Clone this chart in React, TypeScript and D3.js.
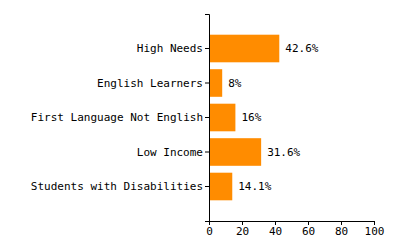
import React, { useEffect, useRef } from "react";
import * as d3 from "d3";

const categories = ["High Needs", "English Learners", "First Language Not English", "Low Income", "Students with Disabilities"];
const values = [42.6, 8, 16, 31.6, 14.1];
const valueLabels = ["42.6%", "8%", "16%", "31.6%", "14.1%"];
const xTicks = [0, 20, 40, 60, 80, 100];

const W = 400, H = 250;
const FONT = "'DejaVu Sans Mono', monospace";

export default function App() {
  const ref = useRef<SVGSVGElement>(null);
  useEffect(() => {
    const svg = d3.select(ref.current);
    svg.selectAll("*").remove();
    const left = 209, right = 374, top = 14, bottom = 221;
    const x = d3.scaleLinear().domain([0, 100]).range([left, right]);
    const y = d3.scaleBand<string>().domain(categories).range([top, bottom]).paddingInner(0.2).paddingOuter(0.6);

    svg.append("g").selectAll("rect").data(categories).join("rect")
      .attr("x", x(0))
      .attr("y", (d) => y(d)!)
      .attr("width", (_, i) => x(values[i]) - x(0))
      .attr("height", y.bandwidth())
      .attr("fill", "#ff8c00");

    svg.append("g").selectAll("text").data(categories).join("text")
      .attr("x", (_, i) => x(values[i]) + 6)
      .attr("y", (d) => y(d)! + y.bandwidth() / 2)
      .attr("dy", "0.35em")
      .attr("font-family", FONT)
      .attr("font-size", 11)
      .attr("fill", "#000")
      .text((_, i) => valueLabels[i]);

    const gy = svg.append("g").attr("transform", `translate(${left},0)`)
      .call(d3.axisLeft(y).tickSize(4).tickPadding(2));
    gy.attr("font-family", FONT).attr("font-size", 11);
    gy.selectAll("text").attr("fill", "#000");

    const gx = svg.append("g").attr("transform", `translate(0,${bottom})`)
      .call(d3.axisBottom(x).tickValues(xTicks).tickSize(4).tickPadding(2));
    gx.attr("font-family", FONT).attr("font-size", 11);
    gx.selectAll("text").attr("fill", "#000");
  }, []);
  return (
    <svg ref={ref} width={W} height={H} style={{ position: "absolute", left: 0, top: 0, background: "#fff" }} />
  );
}
